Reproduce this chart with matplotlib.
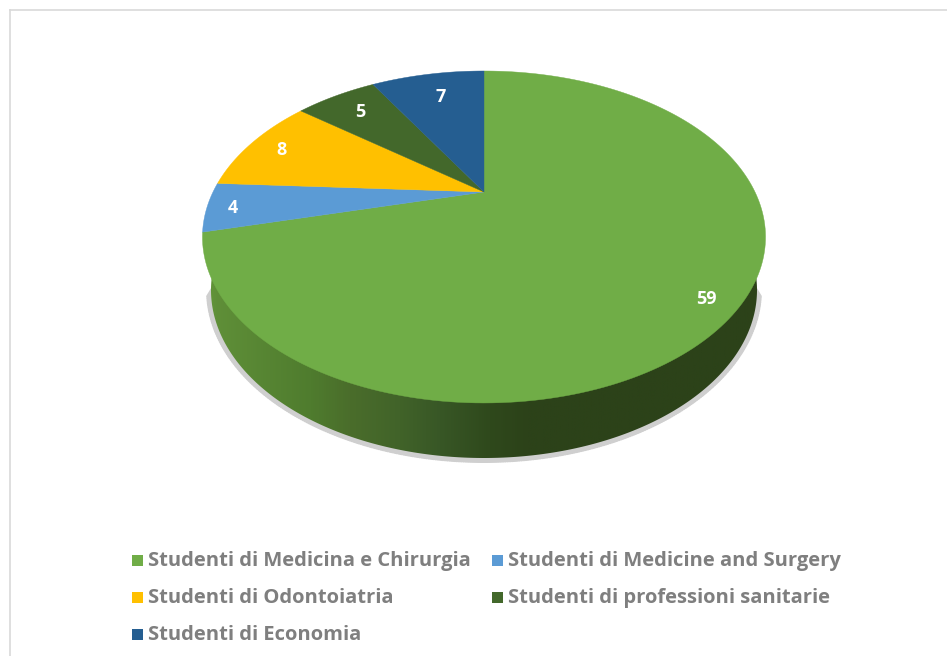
import numpy as np
from matplotlib import pyplot as plt
from matplotlib.colors import LinearSegmentedColormap
from matplotlib.patches import Polygon, Rectangle

# dati
categorie = ['Studenti di Medicina e Chirurgia', 'Studenti di Medicine and Surgery',
             'Studenti di Odontoiatria', 'Studenti di professioni sanitarie',
             'Studenti di Economia']
valori = [59, 4, 8, 5, 7]
colori = ['#70AD47', '#5B9BD5', '#FFC000', '#43682B', '#255E91']
raggio_etichette = [0.90, 0.93, 0.87, 0.80, 0.80]
scarto_etichette = [(-4, 7), (6, 2), (1, 1), (-1, 0), (4, 3)]

# geometria della torta in prospettiva (pixel)
CX, CY = 484, 192
RX, RY = 271, 153.8
K = 0.271


def proietta(angolo, r=1.0):
    """Angolo in radianti, in senso orario dalle ore 12, verso pixel."""
    u = r * np.sin(angolo)
    v = r * np.cos(angolo)
    w = 1 + K * v
    return CX + RX * u / w, CY - RY * v / w


def arco_inferiore(rx, ry, cy=290, margine=-4):
    """Bordo basso del fianco, chiuso sotto la faccia superiore."""
    t = np.linspace(np.radians(margine), np.radians(180 - margine), 300)
    x = 484 + rx * np.cos(t)
    y = cy + ry * np.sin(t)
    return np.column_stack([np.r_[x, 222, 746], np.r_[y, 270, 270]])


fig = plt.figure(figsize=(9.47, 6.56), dpi=100)
ax = fig.add_axes([0, 0, 1, 1])

# cornice
ax.plot([10, 10], [656, 9.5], color='#d9d9d9', lw=1.2)
ax.plot([10, 947], [9.5, 9.5], color='#d9d9d9', lw=1.2)

# ombra
ax.add_patch(Polygon(arco_inferiore(278, 173, margine=2), facecolor='#cfcfcf',
                     edgecolor='none', zorder=1))
tratti = arco_inferiore(279, 174, margine=2)[:-2]
ax.plot(tratti[:, 0], tratti[:, 1], color='white', lw=1.2, ls=(0, (0.6, 0.8)), zorder=1.5)

# fianco con sfumatura
cmap = LinearSegmentedColormap.from_list('fianco', [
    (0.0, '#629638'), (0.014, '#5f8f38'), (0.186, '#4f7c2e'), (0.258, '#4a6d2b'),
    (0.348, '#416329'), (0.42, '#385726'), (0.51, '#2f491c'), (0.58, '#2c4219'),
    (1.0, '#2c4219')])
img = ax.imshow(np.linspace(0, 1, 600)[None, :], cmap=cmap, aspect='auto',
                extent=[207, 761, 470, 260], zorder=2)
img.set_clip_path(Polygon(arco_inferiore(273, 168), transform=ax.transData))

# spicchi
inizio = 0.0
totale = sum(valori)
for valore, colore, r_et, (dx, dy) in zip(valori, colori, raggio_etichette, scarto_etichette):
    fine = inizio + 2 * np.pi * valore / totale
    a = np.linspace(inizio, fine, 200)
    px, py = proietta(a)
    pts = np.column_stack([np.r_[CX, px], np.r_[CY, py]])
    ax.add_patch(Polygon(pts, facecolor=colore, edgecolor=colore, lw=0.3, zorder=3))
    lx, ly = proietta((inizio + fine) / 2, r_et)
    ax.text(lx + dx, ly + dy, str(valore), color='white', fontsize=13, fontweight='bold',
            family='Open Sans', ha='center', va='center', zorder=4)
    inizio = fine

# legenda
pos_legenda = [(132, 560.5), (492, 560.5), (132, 597.5), (492, 597.5), (132, 634.5)]
for nome, colore, (x, y) in zip(categorie, colori, pos_legenda):
    ax.add_patch(Rectangle((x, y - 5.5), 11, 11, facecolor=colore, edgecolor='none'))
    ax.text(x + 16, y + 0.5, nome, color='#7f7f7f', fontsize=14.5, fontweight='bold',
            family='Open Sans', ha='left', va='center')

ax.set_xlim(0, 947)
ax.set_ylim(656, 0)
ax.axis('off')
fig.savefig('out.png', dpi=100)
plt.close(fig)
